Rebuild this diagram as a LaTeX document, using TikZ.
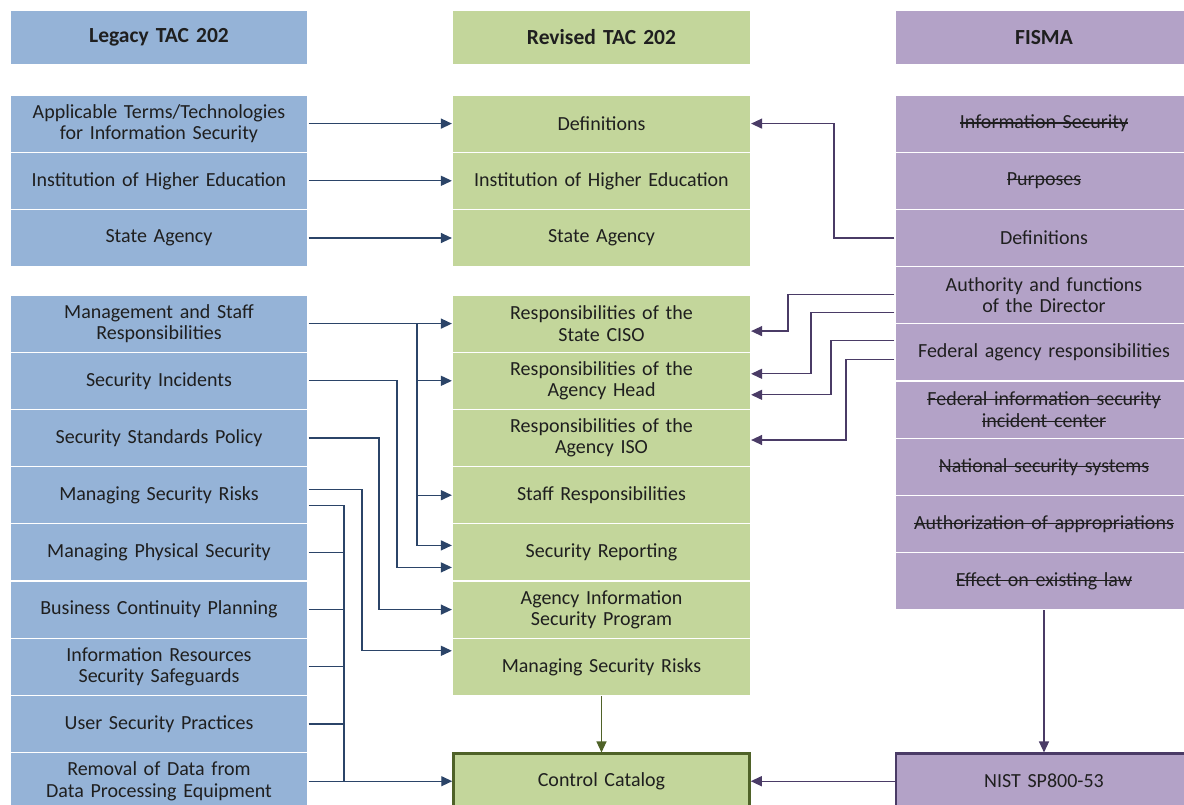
\documentclass[tikz,border=0pt]{standalone}
\usepackage{fontspec}
\setmainfont{Carlito}
\usetikzlibrary{arrows.meta}

\definecolor{legacyblue}{HTML}{95B3D7}
\definecolor{revisedgreen}{HTML}{C3D69B}
\definecolor{fismapurple}{HTML}{B3A2C7}
\definecolor{navyline}{HTML}{2B4468}
\definecolor{plumline}{HTML}{4A3B66}
\definecolor{olivedark}{HTML}{4F6228}

% struck-out text
\newsavebox\strkbox
\newcommand\strk[1]{\leavevmode\sbox\strkbox{#1}\rlap{\raisebox{0.27em}{\rule{\wd\strkbox}{1.1pt}}}\usebox\strkbox}

\tikzset{
  cell/.style={minimum width=298pt, minimum height=57.2pt, text width=290pt, align=center,
    inner sep=0pt, draw=white, line width=1.2pt, text=black!88,
    font=\fontsize{20}{21.5}\selectfont},
  legacy/.style={cell, fill=legacyblue},
  revised/.style={cell, fill=revisedgreen},
  fisma/.style={cell, fill=fismapurple},
  header/.style={minimum height=55pt, font=\fontsize{21.5}{23}\selectfont\bfseries},
  larrow/.style={draw=navyline, line width=1.3pt, -{Triangle[length=11pt,width=10pt]}},
  lline/.style={draw=navyline, line width=1.3pt},
  rarrow/.style={draw=plumline, line width=1.3pt, -{Triangle[length=11pt,width=10pt]}},
  garrow/.style={draw=olivedark, line width=1.3pt, -{Triangle[length=11pt,width=10pt]}}
}

\begin{document}
\begin{tikzpicture}[x=1pt,y=-1pt]
    \useasboundingbox (0,0) rectangle (1184,804);

    % headers
    \node[legacy,header] (lHead) at (159,37.5) {Legacy TAC 202};
    \node[revised,header] (mHead0) at (601.5,37.5) {Revised TAC 202};
    \node[fisma,header] (rHead) at (1044,37.5) {FISMA};

    % legacy column
    \node[legacy] (lApp) at (159,123.6) {Applicable Terms/Technologies\\for Information Security};
    \node[legacy] (lInst) at (159,180.8) {Institution of Higher Education};
    \node[legacy] (lState) at (159,238) {State Agency};
    \node[legacy] (lMgmt) at (159,323.6) {Management and Staff\\Responsibilities};
    \node[legacy] (lInc) at (159,380.8) {Security Incidents};
    \node[legacy] (lStd) at (159,438) {Security Standards Policy};
    \node[legacy] (lRisk) at (159,495.2) {Managing Security Risks};
    \node[legacy] (lPhys) at (159,552.4) {Managing Physical Security};
    \node[legacy] (lBcp) at (159,609.6) {Business Continuity Planning};
    \node[legacy] (lIrs) at (159,666.8) {Information Resources\\Security Safeguards};
    \node[legacy] (lUser) at (159,724) {User Security Practices};
    \node[legacy] (lRem) at (159,781.2) {Removal of Data from\\Data Processing Equipment};

    % revised column
    \node[revised] (mDef) at (601.5,123.6) {Definitions};
    \node[revised] (mInst) at (601.5,180.8) {Institution of Higher Education};
    \node[revised] (mState) at (601.5,238) {State Agency};
    \node[revised] (mCiso) at (601.5,323.6) {Responsibilities of the\\State CISO};
    \node[revised] (mHead) at (601.5,380.8) {Responsibilities of the\\Agency Head};
    \node[revised] (mIso) at (601.5,438) {Responsibilities of the\\Agency ISO};
    \node[revised] (mStaff) at (601.5,495.2) {Staff Responsibilities};
    \node[revised] (mRep) at (601.5,552.4) {Security Reporting};
    \node[revised] (mProg) at (601.5,609.6) {Agency Information\\Security Program};
    \node[revised] (mRisk) at (601.5,666.8) {Managing Security Risks};
    \node[revised,draw=olivedark,line width=2.5pt,minimum width=296pt,minimum height=55pt] (mCat) at (601.5,781.2) {Control Catalog};

    % fisma column
    \node[fisma] (rInfo) at (1044,123.6) {\strk{Information Security}};
    \node[fisma] (rPurp) at (1044,180.8) {\strk{Purposes}};
    \node[fisma] (rDef) at (1044,238) {Definitions};
    \node[fisma] (rAuth) at (1044,295.2) {Authority and functions\\of the Director};
    \node[fisma] (rFed) at (1044,352.4) {Federal agency responsibilities};
    \node[fisma] (rFisc) at (1044,409.6) {\strk{Federal information security}\\\strk{incident center}};
    \node[fisma] (rNat) at (1044,466.8) {\strk{National security systems}};
    \node[fisma] (rAuthz) at (1044,524) {\strk{Authorization of appropriations}};
    \node[fisma] (rEff) at (1044,581.2) {\strk{Effect on existing law}};
    \node[fisma,draw=plumline,line width=2.5pt,minimum width=296pt,minimum height=55pt] (nist) at (1044,781.2) {NIST SP800-53};

    % legacy -> revised
    \draw[larrow] (lApp) -- (mDef);
    \draw[larrow] (lInst) -- (mInst);
    \draw[larrow] (lState) -- (mState);
    \draw[larrow] (lMgmt) -- (mCiso);
    \coordinate (busA) at (417,323.6);
    \draw[larrow] (busA |- mHead.west) -- (mHead.west);
    \draw[larrow] (busA |- mStaff.west) -- (mStaff.west);
    \draw[larrow] (busA) |- ([yshift=7pt]mRep.west);
    \coordinate (busB) at (397,380.8);
    \draw[larrow] (lInc.east) -- (busB) |- ([yshift=-15pt]mRep.west);
    \coordinate (busC) at (379,438);
    \draw[larrow] (lStd.east) -- (busC) |- (mProg.west);
    \coordinate (busD) at (362,489.2);
    \draw[larrow] ([yshift=6pt]lRisk.east) -- (busD) |- ([yshift=16pt]mRisk.west);
    \coordinate (busE) at (344,505.2);
    \draw[lline] ([yshift=-10pt]lRisk.east) -- (busE) -- (busE |- lRem.east);
    \draw[lline] (lPhys.east) -- (busE |- lPhys.east);
    \draw[lline] (lBcp.east) -- (busE |- lBcp.east);
    \draw[lline] (lIrs.east) -- (busE |- lIrs.east);
    \draw[lline] (lUser.east) -- (busE |- lUser.east);
    \draw[larrow] (lRem) -- (mCat);

    % fisma -> revised
    \coordinate (rbA) at (834,238);
    \draw[rarrow] (rDef.west) -- (rbA) |- (mDef.east);
    \coordinate (rbB) at (788,294.2);
    \draw[rarrow] ([yshift=1pt]rAuth.west) -- (rbB) |- ([yshift=-7.5pt]mCiso.east);
    \coordinate (rbC) at (811,312.2);
    \draw[rarrow] ([yshift=-17pt]rAuth.west) -- (rbC) |- ([yshift=7pt]mHead.east);
    \coordinate (rbD) at (831,340.4);
    \draw[rarrow] ([yshift=12pt]rFed.west) -- (rbD) |- ([yshift=-14pt]mHead.east);
    \coordinate (rbE) at (846,359.4);
    \draw[rarrow] ([yshift=-7pt]rFed.west) -- (rbE) |- ([yshift=-2pt]mIso.east);

    % to the catalogues
    \draw[garrow] (mRisk) -- (mCat);
    \draw[rarrow] (rEff) -- (nist);
    \draw[rarrow] (nist) -- (mCat);
\end{tikzpicture}
\end{document}
